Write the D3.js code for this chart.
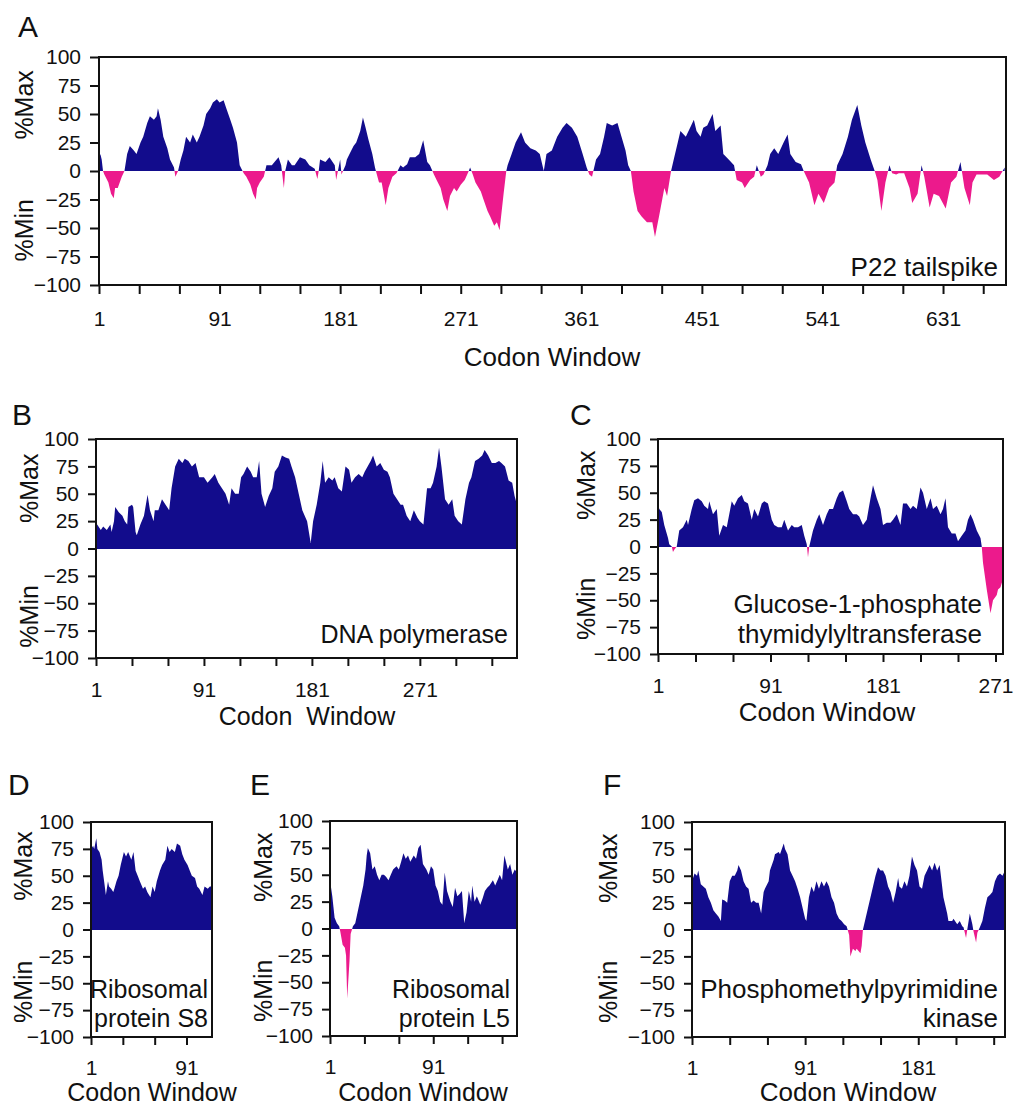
<!DOCTYPE html>
<html>
<head>
<meta charset="utf-8">
<script src="https://cdn.jsdelivr.net/npm/d3@7"></script>
<style>
  body { margin: 0; background: #fff; }
  svg text { font-family: "Liberation Sans", Arial, sans-serif; fill: #111; }
</style>
</head>
<body>
<div id="chart"></div>
<script>
// codon window positions and %MinMax values
var codonA = [1,2,3,4,5,8,10,12,13,15,18,20,22,24,27,29,32,34,37,39,42,44,45,47,49,52,54,57,58,60,62,64,66,69,71,74,76,79,81,84,86,89,91,94,96,99,101,104,106,109,111,114,116,118,119,121,124,126,130,132,135,137,139,140,142,145,147,151,155,158,162,164,165,166,170,173,177,178,181,182,185,186,188,191,193,196,198,200,202,205,207,210,212,215,217,220,223,226,228,231,233,237,240,243,246,248,251,253,256,258,261,263,266,268,271,274,277,278,280,282,286,288,291,293,296,298,300,303,305,306,309,312,316,319,323,327,330,333,335,339,343,347,350,354,358,362,365,367,369,372,375,378,380,384,388,391,394,396,398,400,403,406,410,414,416,419,423,425,428,430,433,435,439,443,445,447,450,452,455,459,461,465,467,471,475,477,481,483,487,490,492,495,497,500,502,505,508,512,515,517,521,525,527,531,535,538,542,546,550,552,556,560,563,567,570,573,577,580,582,585,588,591,593,596,598,602,606,608,612,615,617,621,624,628,633,637,641,644,647,651,653,656,659,664,669,673,677];
var valueA = [10,15,10,0,-3,-10,-20,-24,-15,-15,-5,0,15,22,18,15,25,30,42,48,45,48,55,45,30,20,10,3,-5,0,10,18,30,25,32,25,30,40,50,55,60,63,60,62,55,45,38,25,5,-2,-5,-12,-20,-25,-15,-10,-5,5,5,8,12,5,-15,0,10,5,5,12,10,5,2,-7,0,10,8,12,5,-8,10,-3,5,10,15,22,25,35,47,38,28,15,3,-10,-10,-30,-15,-5,-2,5,3,6,12,12,15,27,8,5,-3,-8,-15,-25,-35,-22,-15,-18,-12,-8,0,3,-3,-10,-18,-25,-35,-40,-48,-45,-52,-20,0,5,15,25,34,25,20,18,15,0,15,18,30,38,42,38,30,15,3,-3,-5,10,15,30,42,40,42,30,18,5,0,-18,-35,-40,-45,-45,-58,-40,-15,-22,0,10,25,35,30,40,45,35,30,38,40,50,35,40,15,10,5,-8,-10,-15,-8,-5,5,-5,-3,5,15,20,15,25,32,15,8,6,0,-10,-30,-20,-28,-15,-10,5,15,30,45,58,40,25,10,0,-8,-35,-10,5,-2,-3,-2,-2,-15,-28,-20,5,-5,-32,-20,-22,-33,-10,-5,8,-15,-30,-10,-3,-3,-3,-8,-5,3];

var codonB = [1,2,5,7,10,13,14,16,17,20,23,25,27,28,31,32,34,35,38,41,44,46,49,50,53,56,59,62,64,67,70,73,75,78,81,84,87,91,94,98,100,103,106,109,112,114,117,120,122,124,127,130,132,135,137,139,142,145,148,150,153,156,159,162,164,167,170,173,175,177,180,182,185,188,190,192,195,198,200,203,206,209,212,214,217,220,223,225,230,232,235,238,241,244,246,249,252,255,257,260,263,266,269,271,274,277,280,282,285,287,289,292,295,298,300,303,306,309,312,314,317,320,323,325,328,331,334,337,339,342,345,348,350,352];
var valueB = [20,22,17,20,17,22,15,25,38,33,30,25,22,38,40,38,15,12,22,30,49,35,25,35,35,45,40,35,55,75,82,78,82,80,75,78,65,65,60,65,68,60,55,50,40,55,50,50,65,68,75,70,65,65,80,50,38,48,55,70,75,85,83,82,75,65,50,35,30,25,5,25,40,60,80,60,65,62,65,55,52,75,72,60,65,68,65,70,80,85,75,78,72,70,65,50,45,40,40,30,25,35,28,25,22,55,55,60,75,92,75,45,40,45,30,25,22,45,60,65,80,82,85,90,85,78,78,80,78,75,62,60,48,40];

var codonC = [1,2,4,6,9,10,12,13,14,16,18,21,24,25,28,30,33,36,38,41,42,45,48,50,53,56,58,60,62,65,68,70,73,76,78,81,84,86,89,92,94,97,100,102,105,108,110,113,116,118,120,121,122,125,128,130,133,136,138,141,144,146,149,152,154,157,160,162,165,168,171,173,176,179,181,184,187,189,192,195,197,200,203,205,208,211,213,216,219,221,224,227,229,231,233,236,239,241,244,247,249,251,253,256,259,260,261,264,267,269,272,273,275,277];
var valueC = [40,35,32,20,8,2,0,-5,-3,0,15,18,25,20,35,43,45,42,38,35,42,30,35,10,20,18,30,42,38,45,48,42,40,25,35,28,40,42,40,25,20,18,18,25,15,20,18,18,20,10,2,-10,0,15,25,30,20,30,35,35,45,50,52,42,35,30,30,28,20,25,45,57,45,35,20,22,22,25,30,20,40,40,35,38,35,55,50,35,45,35,38,30,35,45,18,12,12,5,10,15,25,30,25,15,8,0,-15,-40,-62,-50,-45,-40,-38,-30];

var codonD = [1,3,4,6,7,9,11,12,14,15,17,18,20,22,23,25,27,29,32,34,36,39,41,43,45,47,50,52,54,57,59,61,63,66,68,71,73,75,77,80,82,85,87,89,92,94,96,99,101,103,106,108,111,113,115];
var valueD = [75,78,75,85,75,72,65,55,40,32,45,40,38,35,38,45,50,60,72,68,72,65,72,55,50,45,38,40,35,30,40,35,45,55,60,65,78,72,75,72,80,78,70,65,60,55,50,48,40,38,32,40,38,40,40];

var codonE = [1,3,4,5,7,9,10,12,14,15,16,18,19,21,23,25,27,30,32,33,34,36,38,40,42,44,46,48,50,52,54,56,59,61,63,65,67,69,71,74,76,78,80,82,85,87,89,91,93,95,97,99,101,103,106,108,110,112,114,116,118,120,122,124,125,127,129,132,134,136,138,140,143,145,147,149,151,153,156,158,160,162,164];
var valueE = [45,30,20,10,5,2,-3,-15,-18,-25,-65,-30,-5,2,5,15,25,40,55,68,75,70,55,58,50,45,50,50,48,45,50,55,58,55,62,70,65,68,62,68,65,75,78,60,55,50,58,55,40,35,25,22,52,35,25,20,38,30,32,35,5,15,35,25,40,25,30,22,28,35,38,40,45,40,45,50,45,68,55,60,50,55,52];

var codonF = [1,3,5,6,8,10,12,14,16,18,20,22,24,25,27,29,31,33,35,37,38,40,42,44,46,48,50,52,54,56,58,59,62,63,66,67,70,71,74,75,77,79,81,83,85,87,89,91,92,94,96,98,100,102,104,106,108,110,112,114,116,118,120,122,124,126,127,129,131,132,135,136,137,139,141,143,145,147,149,151,153,155,157,159,161,163,165,166,168,170,172,174,176,178,180,182,184,186,188,190,192,194,196,198,200,201,204,205,208,209,212,214,216,217,219,220,222,224,225,227,228,230,232,234,236,238,240,242,244,246,248,250];
var valueF = [45,52,50,55,42,40,38,30,25,18,15,12,8,28,27,25,45,50,50,55,60,55,45,40,38,25,27,25,25,15,35,38,45,55,65,70,72,70,80,75,70,55,50,45,38,30,20,10,8,30,40,35,45,38,45,40,45,40,30,25,15,10,8,5,3,-5,-25,-18,-20,-18,-22,-15,0,10,20,30,40,50,58,55,55,50,40,35,25,35,48,40,38,45,40,50,68,60,55,40,38,50,55,60,55,62,55,60,40,30,15,8,8,10,5,8,3,2,-8,0,15,5,-2,-12,-3,2,8,20,30,32,35,45,50,52,50,55];

var yTicks = [-100, -75, -50, -25, 0, 25, 50, 75, 100];
var labelsA = [1, 91, 181, 271, 361, 451, 541, 631];
var labelsB = [1, 91, 181, 271];
var labelsC = [1, 91, 181, 271];
var labelsD = [1, 91];
var labelsE = [1, 91];
var labelsF = [1, 91, 181];

var blue = "#120c8c", pink = "#ec1a8c";

var panels = [
  {id: "A", codon: codonA, value: valueA, labels: labelsA, xMax: 678,
   left: 99, right: 1006, top: 57, bottom: 285, tick: 9, pad: 17,
   letter: [18, 37], yLabX: 33, yMaxAt: 58, yMinAt: -52,
   title: "Codon Window", titleX: 552, titleY: 366, titleSize: 26,
   note: ["P22 tailspike"], noteX: 998, noteY: [276], noteSize: 26},
  {id: "B", codon: codonB, value: valueB, labels: labelsB, xMax: 352,
   left: 96, right: 517, top: 439, bottom: 658, tick: 8, pad: 16,
   letter: [12, 425], yLabX: 38, yMaxAt: 55, yMinAt: -62,
   title: "Codon  Window", titleX: 307, titleY: 725, titleSize: 25,
   note: ["DNA polymerase"], noteX: 508, noteY: [643], noteSize: 25},
  {id: "C", codon: codonC, value: valueC, labels: labelsC, xMax: 277,
   left: 658, right: 1003, top: 439, bottom: 654, tick: 8, pad: 16,
   letter: [570, 425], yLabX: 595, yMaxAt: 57, yMinAt: -58,
   title: "Codon Window", titleX: 827, titleY: 721, titleSize: 26,
   note: ["Glucose-1-phosphate", "thymidylyltransferase"], noteX: 982, noteY: [613, 643], noteSize: 26},
  {id: "D", codon: codonD, value: valueD, labels: labelsD, xMax: 115,
   left: 91, right: 212, top: 822, bottom: 1037, tick: 8, pad: 15,
   letter: [8, 795], yLabX: 32, yMaxAt: 59, yMinAt: -58,
   title: "Codon Window", titleX: 152, titleY: 1101, titleSize: 25,
   note: ["Ribosomal", "protein S8"], noteX: 208, noteY: [998, 1027], noteSize: 25},
  {id: "E", codon: codonE, value: valueE, labels: labelsE, xMax: 164,
   left: 330, right: 517, top: 821, bottom: 1036, tick: 8, pad: 15,
   letter: [250, 795], yLabX: 272, yMaxAt: 57, yMinAt: -58,
   title: "Codon Window", titleX: 423, titleY: 1101, titleSize: 25,
   note: ["Ribosomal", "protein L5"], noteX: 510, noteY: [998, 1027], noteSize: 25},
  {id: "F", codon: codonF, value: valueF, labels: labelsF, xMax: 250,
   left: 692, right: 1005, top: 822, bottom: 1037, tick: 8, pad: 15,
   letter: [603, 795], yLabX: 617, yMaxAt: 57, yMinAt: -58,
   title: "Codon Window", titleX: 848, titleY: 1101, titleSize: 26,
   note: ["Phosphomethylpyrimidine", "kinase"], noteX: 998, noteY: [998, 1027], noteSize: 26}
];

var svg = d3.select("#chart").append("svg")
    .attr("width", 1014)
    .attr("height", 1108);

var defs = svg.append("defs");

panels.forEach(function(p) {
    var data = p.codon.map(function(c, i) { return [c, p.value[i]]; });

    var x = d3.scaleLinear().domain([1, p.xMax]).range([p.left, p.right]);
    var y = d3.scaleLinear().domain([-100, 100]).range([p.bottom, p.top]);
    var zero = Math.round(y(0));

    // clip areas above and below zero so each half gets its own colour
    defs.append("clipPath").attr("id", "pos" + p.id)
        .append("rect")
        .attr("x", p.left).attr("y", p.top)
        .attr("width", p.right - p.left).attr("height", zero - p.top);
    defs.append("clipPath").attr("id", "neg" + p.id)
        .append("rect")
        .attr("x", p.left).attr("y", zero)
        .attr("width", p.right - p.left).attr("height", p.bottom - zero);

    var area = d3.area()
        .x(function(d) { return x(d[0]); })
        .y0(zero)
        .y1(function(d) { return y(d[1]); });

    var g = svg.append("g");

    g.append("path")
        .datum(data)
        .attr("d", area)
        .attr("fill", blue)
        .attr("clip-path", "url(#pos" + p.id + ")");

    g.append("path")
        .datum(data)
        .attr("d", area)
        .attr("fill", pink)
        .attr("clip-path", "url(#neg" + p.id + ")");

    // axes
    var yAxis = d3.axisLeft(y)
        .tickValues(yTicks)
        .tickSize(p.tick)
        .tickPadding(9);
    var ga = g.append("g")
        .attr("transform", "translate(" + p.left + ",0)")
        .call(yAxis);

    var xAxis = d3.axisBottom(x)
        .tickValues(d3.range(1, p.xMax, 30))
        .tickSize(p.tick)
        .tickPadding(p.pad)
        .tickFormat(function(d) { return p.labels.indexOf(d) >= 0 ? d : ""; });
    var gb = g.append("g")
        .attr("transform", "translate(0," + p.bottom + ")")
        .call(xAxis);

    [ga, gb].forEach(function(ax) {
        ax.select(".domain").remove();
        ax.selectAll("line").attr("stroke", "#111").attr("stroke-width", 2);
        ax.selectAll("text").style("font-size", "21px")
            .style("font-family", "'Liberation Sans', Arial, sans-serif")
            .attr("fill", "#111");
    });

    // frame
    g.append("rect")
        .attr("x", p.left).attr("y", p.top)
        .attr("width", p.right - p.left)
        .attr("height", p.bottom - p.top)
        .attr("fill", "none")
        .attr("stroke", "#111")
        .attr("stroke-width", 2);

    // panel letter
    g.append("text")
        .attr("x", p.letter[0]).attr("y", p.letter[1])
        .style("font-size", "30px")
        .text(p.id);

    // y labels
    g.append("text")
        .attr("transform", "translate(" + p.yLabX + "," + y(p.yMaxAt) + ") rotate(-90)")
        .attr("text-anchor", "middle")
        .style("font-size", "25px")
        .text("%Max");
    g.append("text")
        .attr("transform", "translate(" + p.yLabX + "," + y(p.yMinAt) + ") rotate(-90)")
        .attr("text-anchor", "middle")
        .style("font-size", "25px")
        .text("%Min");

    // x title
    g.append("text")
        .attr("x", p.titleX).attr("y", p.titleY)
        .attr("text-anchor", "middle")
        .style("font-size", p.titleSize + "px")
        .style("white-space", "pre")
        .text(p.title);

    // protein name
    p.note.forEach(function(line, i) {
        g.append("text")
            .attr("x", p.noteX).attr("y", p.noteY[i])
            .attr("text-anchor", "end")
            .style("font-size", p.noteSize + "px")
            .text(line);
    });
});
</script>
</body>
</html>
